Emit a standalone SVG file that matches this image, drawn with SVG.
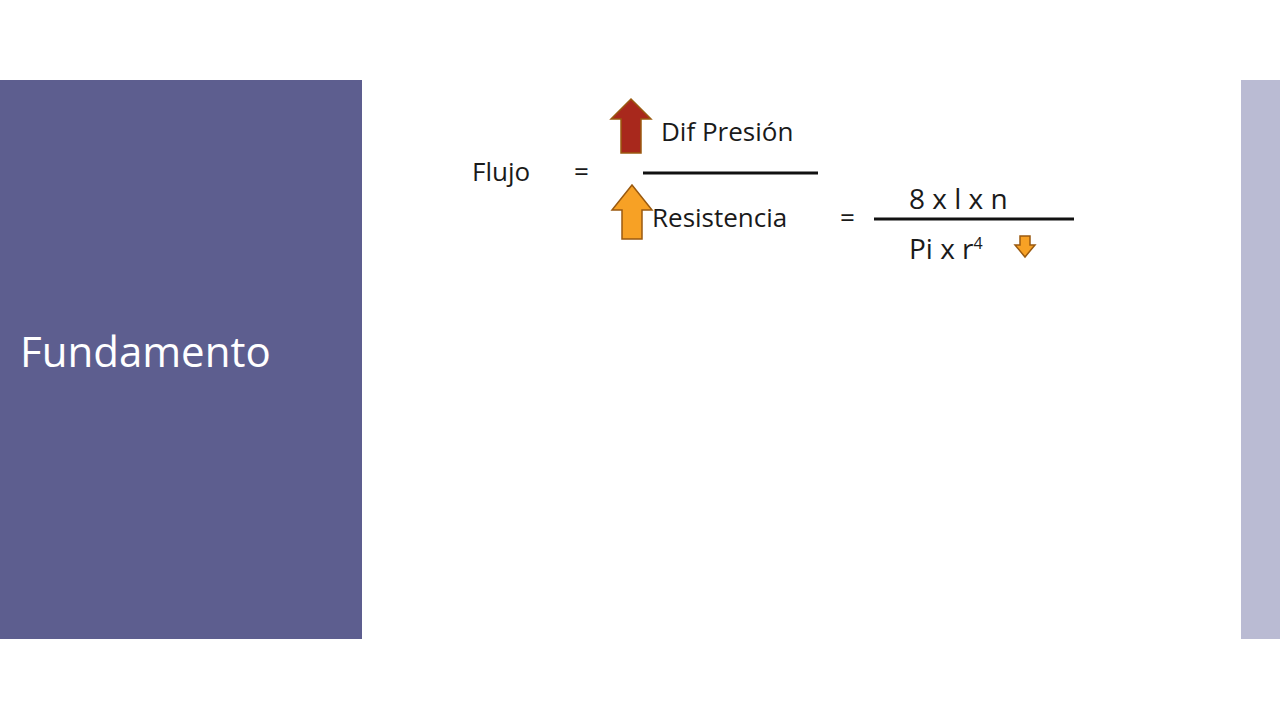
<svg xmlns="http://www.w3.org/2000/svg" width="1280" height="720" viewBox="0 0 1280 720">
<style>
.t{font-family:"Open Sans","Liberation Sans",sans-serif;fill:#1a1a1a;font-size:26px}
.l{stroke:#111;stroke-width:3}
.ar{stroke:#9a5a10;stroke-width:1.5}
</style>
<rect width="1280" height="720" fill="#fff"/>
<rect x="0" y="80" width="362" height="559" fill="#5d5e8f"/>
<rect x="1241" y="80" width="39" height="559" fill="#babbd3"/>
<text x="20" y="367" font-family="'Open Sans','Liberation Sans',sans-serif" font-size="42" fill="#fff">Fundamento</text>
<g id="formula">
<text class="t" x="472" y="181">Flujo</text>
<text class="t" x="574" y="181">=</text>
<text class="t" x="661" y="141">Dif Presión</text>
<line class="l" x1="643" y1="173" x2="818" y2="173"/>
<text class="t" x="652" y="227">Resistencia</text>
<text class="t" x="840" y="227">=</text>
<line class="l" x1="874" y1="219" x2="1074" y2="219"/>
<text class="t" x="909" y="209" style="font-size:28px">8 x l x n</text>
<text class="t" x="909" y="259" style="font-size:28px">Pi x r<tspan font-size="16" dy="-10">4</tspan></text>
<polygon class="ar" fill="#a8281c" points="631,99 651,119 641,119 641,153 621,153 621,119 611,119"/>
<polygon class="ar" fill="#f7a125" points="632,185 652,210 642,210 642,239 622,239 622,210 612,210"/>
<polygon class="ar" fill="#f7a125" points="1020,236 1030,236 1030,245 1035,245 1025,257 1015,245 1020,245"/>
</g>
</svg>
